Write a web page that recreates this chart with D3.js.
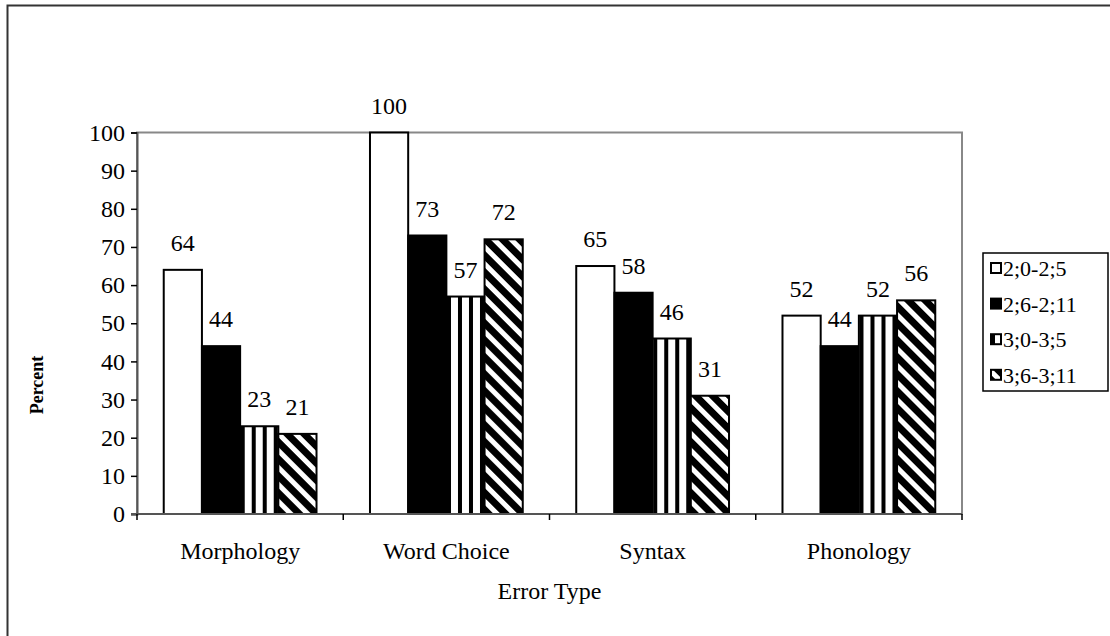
<!DOCTYPE html>
<html>
<head>
<meta charset="utf-8">
<script src="https://cdn.jsdelivr.net/npm/d3@7"></script>
<style>
  body { margin: 0; background: #fff; }
  svg text { font-family: "Liberation Serif", "Times New Roman", serif; fill: #000; }
</style>
</head>
<body>
<svg id="chart" width="1110" height="636"></svg>
<script>
// chart data
var categories = ["Morphology", "Word Choice", "Syntax", "Phonology"];
var groups = ["2;0-2;5", "2;6-2;11", "3;0-3;5", "3;6-3;11"];
var values = [
    [64, 44, 23, 21],   // Morphology
    [100, 73, 57, 72],  // Word Choice
    [65, 58, 46, 31],   // Syntax
    [52, 44, 52, 56]    // Phonology
];
var yTicks = [0, 10, 20, 30, 40, 50, 60, 70, 80, 90, 100];

var svg = d3.select("#chart");

// patterns for the bar fills
var defs = svg.append("defs");

var vstripe = defs.append("pattern")
    .attr("id", "vstripe")
    .attr("patternUnits", "userSpaceOnUse")
    .attr("width", 11).attr("height", 11);
vstripe.append("rect").attr("width", 11).attr("height", 11).attr("fill", "#fff");
vstripe.append("rect").attr("x", 0).attr("width", 4).attr("height", 11).attr("fill", "#000");

var diag = defs.append("pattern")
    .attr("id", "diag")
    .attr("patternUnits", "userSpaceOnUse")
    .attr("width", 12).attr("height", 12)
    .attr("patternTransform", "rotate(-45)");
diag.append("rect").attr("width", 12).attr("height", 12).attr("fill", "#000");
diag.append("rect").attr("x", 0).attr("width", 5).attr("height", 12).attr("fill", "#fff");

var fills = ["#fff", "#000", "url(#vstripe)", "url(#diag)"];

// outer frame (only top and left visible)
svg.append("rect")
    .attr("x", 7.5).attr("y", 5.5)
    .attr("width", 1200).attr("height", 700)
    .attr("fill", "none")
    .attr("stroke", "#333")
    .attr("stroke-width", 2);

var plot = {left: 137, right: 962, top: 132.5, bottom: 514};

var x0 = d3.scaleBand()
    .domain(categories)
    .range([plot.left, plot.right]);

var barW = x0.bandwidth() / 5.4;
var x1 = d3.scaleBand()
    .domain(d3.range(groups.length))
    .range([0, barW * 4]);

var y = d3.scaleLinear()
    .domain([0, 100])
    .range([plot.bottom, plot.top]);

// plot area border
svg.append("rect")
    .attr("x", plot.left).attr("y", plot.top)
    .attr("width", plot.right - plot.left)
    .attr("height", plot.bottom - plot.top)
    .attr("fill", "none")
    .attr("stroke", "#888")
    .attr("stroke-width", 2);

// bars
var cat = svg.selectAll("g.cat")
    .data(categories)
    .enter()
    .append("g")
    .attr("class", "cat")
    .attr("transform", function (d) {
        return "translate(" + (x0(d) + (x0.bandwidth() - barW * 4) / 2) + ",0)";
    });

cat.selectAll("rect")
    .data(function (d, i) { return values[i]; })
    .enter()
    .append("rect")
    .attr("x", function (d, j) { return x1(j); })
    .attr("y", function (d) { return y(d); })
    .attr("width", barW)
    .attr("height", function (d) { return y(0) - y(d); })
    .attr("fill", function (d, j) { return fills[j]; })
    .attr("stroke", "#000")
    .attr("stroke-width", 2);

cat.selectAll("text.val")
    .data(function (d, i) { return values[i]; })
    .enter()
    .append("text")
    .attr("class", "val")
    .attr("x", function (d, j) { return x1(j) + barW / 2; })
    .attr("y", function (d) { return y(d) - 19; })
    .attr("text-anchor", "middle")
    .attr("font-size", 24)
    .text(function (d) { return d; });

// y axis
var yAxis = d3.axisLeft(y)
    .tickValues(yTicks)
    .tickSize(6)
    .tickPadding(6);

var gy = svg.append("g")
    .attr("transform", "translate(" + plot.left + ",0)")
    .call(yAxis);
gy.select(".domain").attr("stroke", "#555").attr("stroke-width", 2);
gy.selectAll(".tick line").attr("stroke", "#000").attr("stroke-width", 1.5);
gy.selectAll(".tick text")
    .attr("font-size", 24)
    .attr("fill", "#000");

// x axis line with ticks at category boundaries
svg.append("line")
    .attr("x1", plot.left - 6).attr("x2", plot.right)
    .attr("y1", plot.bottom).attr("y2", plot.bottom)
    .attr("stroke", "#555").attr("stroke-width", 2);

svg.selectAll("line.xtick")
    .data(categories.concat(["end"]))
    .enter()
    .append("line")
    .attr("class", "xtick")
    .attr("x1", function (d, i) { return plot.left + i * x0.step(); })
    .attr("x2", function (d, i) { return plot.left + i * x0.step(); })
    .attr("y1", plot.bottom)
    .attr("y2", plot.bottom + 6)
    .attr("stroke", "#000").attr("stroke-width", 1.5);

svg.selectAll("text.cat")
    .data(categories)
    .enter()
    .append("text")
    .attr("class", "cat")
    .attr("x", function (d) { return x0(d) + x0.bandwidth() / 2; })
    .attr("y", 559)
    .attr("text-anchor", "middle")
    .attr("font-size", 24)
    .text(function (d) { return d; });

// axis titles
svg.append("text")
    .attr("x", (plot.left + plot.right) / 2)
    .attr("y", 599)
    .attr("text-anchor", "middle")
    .attr("font-size", 24)
    .text("Error Type");

svg.append("text")
    .attr("transform", "translate(43,385) rotate(-90)")
    .attr("text-anchor", "middle")
    .attr("font-size", 18)
    .attr("font-weight", "bold")
    .text("Percent");

// legend
var legend = svg.append("g");
legend.append("rect")
    .attr("x", 983).attr("y", 253)
    .attr("width", 125).attr("height", 138)
    .attr("fill", "#fff")
    .attr("stroke", "#000")
    .attr("stroke-width", 1.5);

var item = legend.selectAll("g.item")
    .data(groups)
    .enter()
    .append("g")
    .attr("class", "item")
    .attr("transform", function (d, i) { return "translate(991," + (268 + i * 35.6) + ")"; });

item.append("rect")
    .attr("x", 0).attr("y", -5)
    .attr("width", 10).attr("height", 10)
    .attr("fill", function (d, i) { return fills[i]; })
    .attr("stroke", "#000")
    .attr("stroke-width", 2);

item.append("text")
    .attr("x", 12)
    .attr("y", 8)
    .attr("font-size", 22)
    .text(function (d) { return d; });
</script>
</body>
</html>
